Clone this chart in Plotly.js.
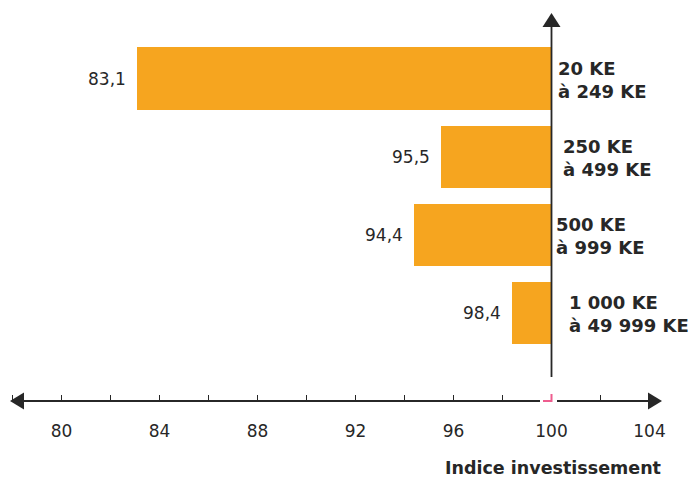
<!DOCTYPE html>
<html>
<head>
<meta charset="utf-8">
<script src="https://cdn.plot.ly/plotly-3.0.1.min.js"></script>
<style>
html,body{margin:0;padding:0;background:#fff;}
#chart{width:691px;height:477px;}
</style>
</head>
<body>
<div id="chart"></div>
<script>
// ---- data ----
var categories = ["20 KE<br>à 249 KE", "250 KE<br>à 499 KE", "500 KE<br>à 999 KE", "1 000 KE<br>à 49 999 KE"];
var values = [83.1, 95.5, 94.4, 98.4];
var baseValue = 100;
var tickValues = [80, 84, 88, 92, 96, 100, 104];
var tickLabels = ["80", "84", "88", "92", "96", "100", "104"];
var axisTitle = "Indice investissement";

// ---- style / layout config ----
var W = 691, H = 477;
var mT = 10, mB = 76;
var pxPerUnit = 24.5, px100 = 551.5;
var r0 = 100 - px100 / pxPerUnit;
var r1 = r0 + W / pxPerUnit;
var catLabelShift = [4, 9, 2, 15];
var ink = '#272727';
var orange = '#F6A51F';
var pink = '#EE5C8E';
var FONT = 'DejaVu Sans';

var plotH = H - mT - mB;
function PX(px) { return px / W; }
function PY(py) { return (H - mB - py) / plotH; }
function xpx(v) { return (v - r0) * pxPerUnit; }

var yrange = [(plotH - 68.5) / 78, (0 - 68.5) / 78];

var trace = {
  type: 'bar',
  orientation: 'h',
  y: categories,
  x: values.map(function (v) { return baseValue - v; }),
  base: values,
  width: 0.795,
  marker: { color: orange, line: { width: 0 } },
  hoverinfo: 'skip'
};

var annotations = [];
values.forEach(function (v, i) {
  annotations.push({
    x: v, y: categories[i], xref: 'x', yref: 'y',
    text: v.toFixed(1).replace('.', ','),
    showarrow: false, xanchor: 'right', yanchor: 'middle', xshift: -9,
    font: { family: FONT, size: 17, color: ink }
  });
  annotations.push({
    x: baseValue, y: categories[i], xref: 'x', yref: 'y',
    text: categories[i],
    showarrow: false, xanchor: 'left', yanchor: 'middle', align: 'left',
    xshift: catLabelShift[i], yshift: -1,
    font: { family: FONT, size: 18, color: ink, weight: 700 }
  });
});
annotations.push({
  x: PX(663), y: PY(468), xref: 'paper', yref: 'paper',
  text: axisTitle, showarrow: false, xanchor: 'right', yanchor: 'middle',
  font: { family: FONT, size: 17.5, color: ink, weight: 700 }
});

var axY = 401;
var vx = xpx(baseValue);
function tri(a, b, c) {
  return 'M' + PX(a[0]) + ',' + PY(a[1]) + ' L' + PX(b[0]) + ',' + PY(b[1]) + ' L' + PX(c[0]) + ',' + PY(c[1]) + ' Z';
}
var shapes = [
  { type: 'line', xref: 'paper', yref: 'paper', x0: PX(vx), x1: PX(vx), y0: PY(377), y1: PY(24), line: { color: ink, width: 1.8 } },
  { type: 'path', xref: 'paper', yref: 'paper', path: tri([vx, 13], [vx - 9, 27], [vx + 9, 27]), fillcolor: ink, line: { width: 0 } },
  { type: 'line', xref: 'paper', yref: 'paper', x0: PX(20), x1: PX(540), y0: PY(axY), y1: PY(axY), line: { color: ink, width: 1.8 } },
  { type: 'line', xref: 'paper', yref: 'paper', x0: PX(557), x1: PX(652), y0: PY(axY), y1: PY(axY), line: { color: ink, width: 1.8 } },
  { type: 'path', xref: 'paper', yref: 'paper', path: tri([10, axY], [24, axY - 8.5], [24, axY + 8.5]), fillcolor: ink, line: { width: 0 } },
  { type: 'path', xref: 'paper', yref: 'paper', path: tri([662, axY], [648, axY - 8.5], [648, axY + 8.5]), fillcolor: ink, line: { width: 0 } },
  { type: 'rect', xref: 'paper', yref: 'paper', x0: PX(vx - 3), x1: PX(vx + 3), y0: PY(axY + 1), y1: PY(axY - 8), fillcolor: '#fff', line: { width: 0 } },
  { type: 'path', xref: 'paper', yref: 'paper',
    path: 'M' + PX(543) + ',' + PY(axY) + ' L' + PX(vx) + ',' + PY(axY) + ' L' + PX(vx) + ',' + PY(axY - 7),
    line: { color: pink, width: 2 } }
];

var layout = {
  width: W, height: H,
  margin: { l: 0, r: 0, t: mT, b: mB, pad: 0 },
  paper_bgcolor: '#fff', plot_bgcolor: '#fff',
  showlegend: false,
  bargap: 0,
  xaxis: {
    range: [r0, r1],
    tickmode: 'array', tickvals: tickValues, ticktext: tickLabels,
    ticks: 'inside', ticklen: 6, tickwidth: 1.6, tickcolor: ink,
    minor: { dtick: 2, tick0: 80, ticks: 'inside', ticklen: 6, tickwidth: 1.6, tickcolor: ink, showgrid: false },
    ticklabelstandoff: 18,
    showline: false, showgrid: false, zeroline: false,
    tickfont: { family: FONT, size: 17, color: ink },
    fixedrange: true
  },
  yaxis: {
    type: 'category',
    categoryorder: 'array', categoryarray: categories,
    range: yrange,
    showticklabels: false, ticks: '', showgrid: false, zeroline: false, showline: false,
    fixedrange: true
  },
  annotations: annotations,
  shapes: shapes
};

Plotly.newPlot('chart', [trace], layout, { displayModeBar: false, staticPlot: true });
</script>
</body>
</html>
